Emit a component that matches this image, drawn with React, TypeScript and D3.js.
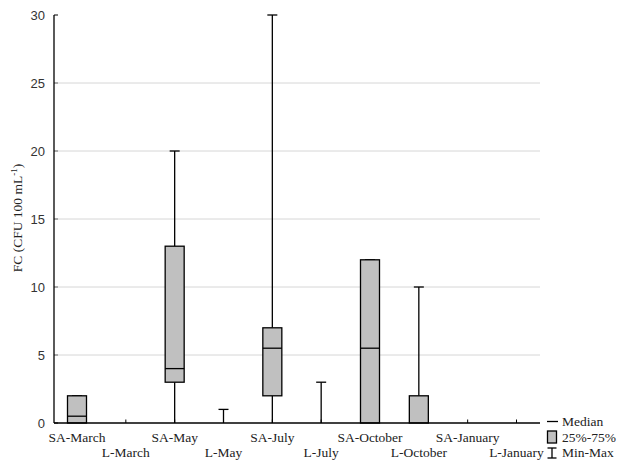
import React from "react";
import * as d3 from "d3";

const categories = ["SA-March", "L-March", "SA-May", "L-May", "SA-July", "L-July", "SA-October", "L-October", "SA-January", "L-January"];
const minValues = [0, 0, 0, 0, 0, 0, 0, 0, 0, 0];
const q1Values = [0, 0, 3, 0, 2, 0, 0, 0, 0, 0];
const medianValues = [0.5, 0, 4, 0, 5.5, 0, 5.5, 0, 0, 0];
const q3Values = [2, 0, 13, 0, 7, 0, 12, 2, 0, 0];
const maxValues = [2, 0, 20, 1, 30, 3, 12, 10, 0, 0];
const yTicks = [0, 5, 10, 15, 20, 25, 30];
const gridTicks = [5, 10, 15, 20, 25];
const legendLabels = ["Median", "25%-75%", "Min-Max"];

const W = 626;
const H = 469;
const left = 54;
const right = 540;
const top = 15;
const bottom = 423;

export default function App() {
  const x = d3.scalePoint<string>().domain(categories).range([77, 516.5]);
  const y = d3.scaleLinear().domain([0, 30]).range([bottom, top]);
  const boxW = 19;
  const capW = 10;
  const serif = "'Liberation Serif', 'Times New Roman', serif";
  const sans = "'Liberation Sans', Arial, sans-serif";

  return (
    <div style={{ position: "absolute", left: 0, top: 0 }}>
      <svg width={W} height={H} style={{ display: "block", background: "#fff" }}>
        <rect x={0} y={0} width={W} height={H} fill="#fff" />
        {yTicks.map((t) => (
          <line key={"yt" + t} x1={left} x2={left + 4} y1={y(t)} y2={y(t)} stroke="#000" strokeWidth={1} />
        ))}
        {gridTicks.map((t) => (
          <line key={"g" + t} x1={left} x2={right} y1={y(t)} y2={y(t)} stroke="#d6d6d6" strokeWidth={1} />
        ))}
        {yTicks.map((t) => (
          <text key={"yl" + t} x={45} y={y(t)} dy="0.36em" textAnchor="end" fontFamily={sans} fontSize={13} fill="#333">
            {t}
          </text>
        ))}
        {categories.map((c) => (
          <line key={"xt" + c} x1={x(c)!} x2={x(c)!} y1={bottom} y2={bottom - 3.5} stroke="#000" strokeWidth={1} />
        ))}
        {categories.map((c, i) => {
          const cx = x(c)!;
          const hasBox = q3Values[i] > q1Values[i];
          return (
            <g key={"b" + c} stroke="#000" strokeWidth={1.3}>
              {maxValues[i] > q3Values[i] && (
                <line x1={cx} x2={cx} y1={y(q3Values[i])} y2={y(maxValues[i])} />
              )}
              {q1Values[i] > minValues[i] && (
                <line x1={cx} x2={cx} y1={y(minValues[i])} y2={y(q1Values[i])} />
              )}
              {maxValues[i] > 0 && (
                <line x1={cx - capW / 2} x2={cx + capW / 2} y1={y(maxValues[i])} y2={y(maxValues[i])} />
              )}
              {minValues[i] > 0 && (
                <line x1={cx - capW / 2} x2={cx + capW / 2} y1={y(minValues[i])} y2={y(minValues[i])} />
              )}
              {hasBox && (
                <rect
                  x={cx - boxW / 2}
                  y={y(q3Values[i])}
                  width={boxW}
                  height={y(q1Values[i]) - y(q3Values[i])}
                  fill="#c0c0c0"
                />
              )}
              {hasBox && medianValues[i] > 0 && (
                <line x1={cx - boxW / 2} x2={cx + boxW / 2} y1={y(medianValues[i])} y2={y(medianValues[i])} />
              )}
            </g>
          );
        })}
        <line x1={left} x2={left} y1={top} y2={bottom} stroke="#000" strokeWidth={1.3} />
        <line x1={left} x2={right} y1={bottom} y2={bottom} stroke="#000" strokeWidth={1.5} />
        {categories.map((c, i) => (
          <text
            key={"xl" + c}
            x={x(c)!}
            y={i % 2 === 0 ? 441.5 : 457}
            textAnchor="middle"
            fontFamily={serif}
            fontSize={13.5}
            fill="#222"
          >
            {c}
          </text>
        ))}
        <text
          transform={`translate(22,${218}) rotate(-90)`}
          textAnchor="middle"
          fontFamily={serif}
          fontSize={13.5}
          fill="#222"
        >
          FC (CFU 100 mL
          <tspan dy={-5} fontSize={9}>-1</tspan>
          <tspan dy={5}>)</tspan>
        </text>
        <g stroke="#000" strokeWidth={1.3}>
          <line x1={547} x2={558} y1={421.5} y2={421.5} />
          <rect x={547.5} y={431} width={9} height={12} fill="#c0c0c0" />
          <line x1={552} x2={552} y1={448} y2={458} />
          <line x1={547.5} x2={556.5} y1={448} y2={448} />
          <line x1={547.5} x2={556.5} y1={458} y2={458} />
        </g>
        {legendLabels.map((l, i) => (
          <text key={"lg" + l} x={562} y={[425.5, 441.5, 457][i]} fontFamily={serif} fontSize={13.5} fill="#222">
            {l}
          </text>
        ))}
      </svg>
    </div>
  );
}
